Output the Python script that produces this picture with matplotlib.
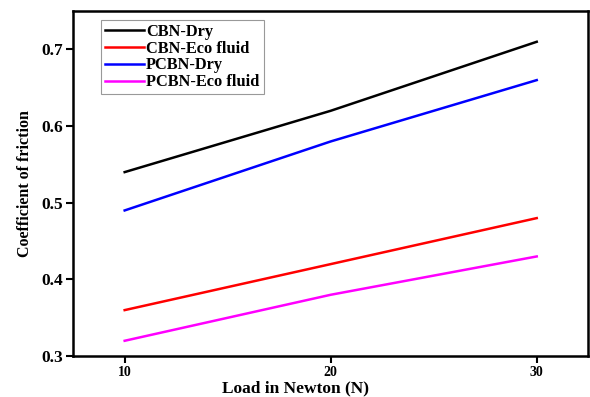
import matplotlib
matplotlib.use("Agg")
import matplotlib.pyplot as plt

plt.rcParams['font.family'] = ['Liberation Serif', 'DejaVu Serif']
plt.rcParams['font.weight'] = 'bold'

loads = [10, 20, 30]
cbn_dry = [0.54, 0.62, 0.71]
cbn_eco = [0.36, 0.42, 0.48]
pcbn_dry = [0.49, 0.58, 0.66]
pcbn_eco = [0.32, 0.38, 0.43]
labels = ["CBN-Dry", "CBN-Eco fluid", "PCBN-Dry", "PCBN-Eco fluid"]
colors = ["black", "red", "blue", "magenta"]

fig = plt.figure(figsize=(5.9, 3.97), dpi=100)
ax = fig.add_axes([0.124, 0.103, 0.873, 0.869])
for y, lab, c in zip([cbn_dry, cbn_eco, pcbn_dry, pcbn_eco], labels, colors):
    ax.plot(loads, y, color=c, lw=1.8, label=lab)

ax.set_xlim(7.5, 32.5)
ax.set_ylim(0.3, 0.75)
ax.set_xticks([10, 20, 30])
ax.set_yticks([0.3, 0.4, 0.5, 0.6, 0.7])
ax.set_yticklabels(["0.3", "0.4", "0.5", "0.6", "0.7"])
for s in ax.spines.values():
    s.set_linewidth(1.8)
ax.tick_params(axis='both', direction='out', width=1.5, length=5)
ax.tick_params(axis='y', labelsize=12.5, pad=2)
ax.tick_params(axis='x', labelsize=10, pad=2)
for t in ax.get_xticklabels() + ax.get_yticklabels():
    t.set_fontweight('bold')
ax.set_xlabel("Load in Newton (N)", fontsize=12.5, fontweight='bold')
ax.xaxis.set_label_coords(0.431, -0.071)
ax.set_ylabel("Coefficient of friction", fontsize=11.5, fontweight='bold', labelpad=6)

leg = ax.legend(loc='upper left', bbox_to_anchor=(0.054, 0.975), fontsize=11.8,
                frameon=True, fancybox=False, edgecolor='gray', handlelength=2.4,
                handletextpad=0.1, borderpad=0.25, labelspacing=0.05,
                borderaxespad=0)
leg.get_frame().set_linewidth(0.8)
for t in leg.get_texts():
    t.set_fontweight('bold')

fig.savefig("out.png", dpi=100)
